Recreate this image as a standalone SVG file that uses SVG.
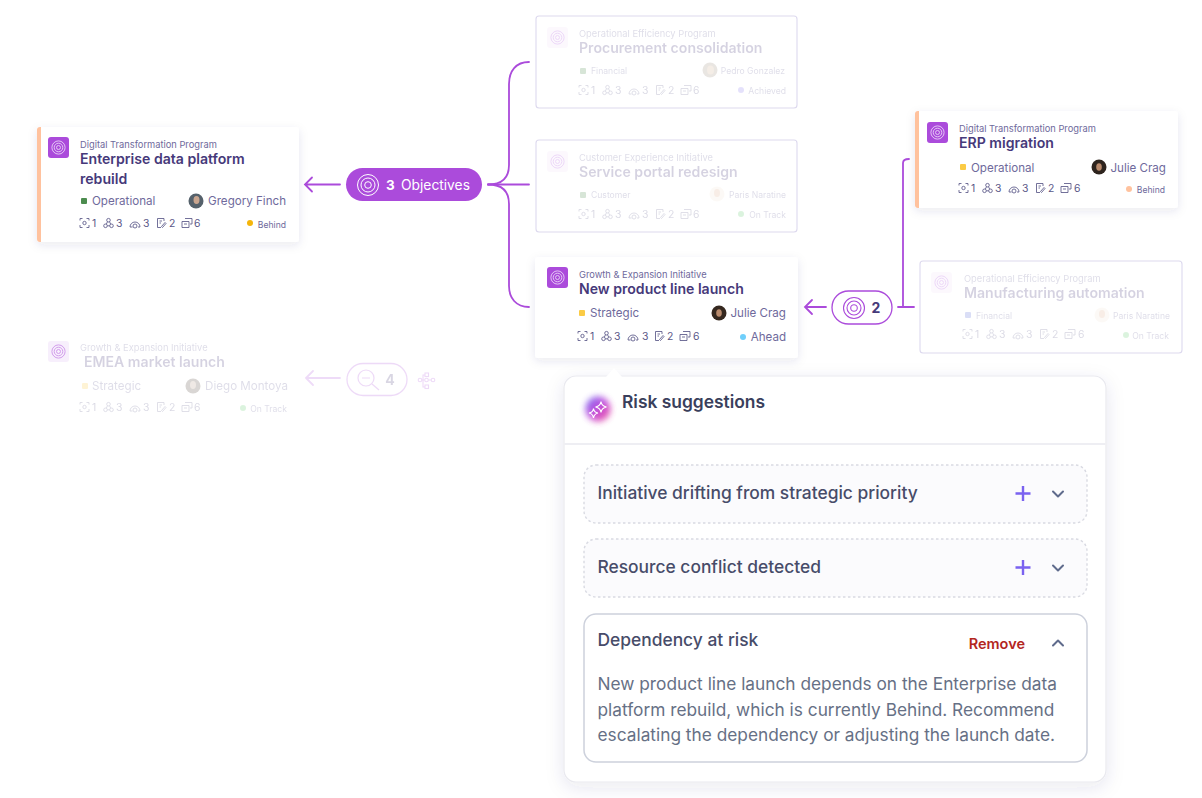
<svg xmlns="http://www.w3.org/2000/svg" width="1202" height="798" viewBox="0 0 1202 798">
<style>
text{font-family:Inter,"Noto Sans","Liberation Sans",sans-serif}
.card{fill:#fff;filter:url(#sh)}
.ghost{fill:#fff;stroke:#DDD9EE;stroke-width:1.1}
.fade{opacity:.22}
.sub{font-size:9.3px;fill:#6F6A9C}
.ttl{font-size:14.1px;font-weight:600;fill:#46397A}
.lab{font-size:11.6px;fill:#6F6A9C}
.sm{font-size:8.6px;fill:#6F6A9C}
.m{font-size:10.4px;fill:#5A5788}
.r{text-anchor:end}
.con{fill:none;stroke:#AB4BDB;stroke-width:1.8;stroke-linecap:round}
.mi{fill:none;stroke:#5A5788;stroke-width:.85}
.tg{fill:none;stroke:#AB4BDB;stroke-width:1.1}
.pt{font-size:17.4px;fill:#474C69;font-weight:500}
.dash{fill:#FBFBFD;stroke:#D9DAE2;stroke-width:1.4;stroke-dasharray:2.5 2.5}
.ico{fill:none;stroke:#5F6B8C;stroke-width:2;stroke-linecap:round;stroke-linejoin:round}
.plus{fill:none;stroke:#7A62F0;stroke-width:2.4}
.body{font-size:17.3px;fill:#667085}
</style>
<defs>
<filter id="sh" x="-15%" y="-25%" width="130%" height="150%"><feDropShadow dx="0" dy="3" stdDeviation="5" flood-color="#3A3570" flood-opacity=".1"/></filter>
<filter id="psh" x="-10%" y="-10%" width="120%" height="120%"><feDropShadow dx="0" dy="5" stdDeviation="9" flood-color="#3A3570" flood-opacity=".1"/></filter>
<filter id="bl" x="-50%" y="-50%" width="200%" height="200%"><feGaussianBlur stdDeviation="3"/></filter>
<linearGradient id="spark" x1="0" y1="0" x2="1" y2="1"><stop offset="0" stop-color="#5C5CF5"/><stop offset=".5" stop-color="#C040D8"/><stop offset="1" stop-color="#F0408C"/></linearGradient>
<g id="targetW" fill="none" stroke="#fff" stroke-width=".9" opacity=".75"><circle r="6.600"/><circle r="4.300"/><circle r="2"/></g>
<g id="badge"><rect width="21" height="21" rx="3" fill="#AB4BDB"/><use href="#targetW" x="10.500" y="10.500"/></g>
<g id="badgeP"><rect width="21" height="21" rx="3" fill="#AB4BDB" opacity=".16"/><g fill="none" stroke="#AB4BDB" stroke-width="1" transform="translate(10.500 10.500)"><circle r="6.600"/><circle r="4.300"/><circle r="2"/></g></g>
<g id="mi" class="mi">
<path d="M0-2.500V-4.500H2.500M6.500-4.500H9V-2.500M9 2V4.500H6.500M2.500 4.500H0V2"/><circle cx="4.500" cy="0" r="1.700"/>
<circle cx="28.500" cy="-2.800" r="1.800"/><circle cx="25.500" cy="2.800" r="1.800"/><circle cx="31.500" cy="2.800" r="1.800"/><path d="M27.500-1.300 26.300 1.200M29.500-1.300 30.700 1.200M27.300 2.800H29.700"/>
<path d="M50 4A5 5 0 1 1 60 4"/><path d="M50 4H52.500M60 4H58"/><circle cx="55" cy="3" r="2"/>
<path d="M77.500 4.500V-4.500H84V-2M77.500 4.500H81M79.500-2H82M79.500 0H81M81.500 3.500 85-.5 86 .5 82.500 4.500Z"/>
<path d="M105-4.500H112V1H110M102-1.500H109V4.500H102ZM104 1H107"/>
</g>
</defs>

<g id="connectors">
<path class="con" d="M488 184.500H529"/>
<path class="con" d="M488 184.500C502 184.500 509 178 509 165V84C509 71 516 62 529 62"/>
<path class="con" d="M488 184.500C502 184.500 509 191 509 204V286C509 298 516 307 529 307"/>
<path class="con" d="M340 184.500H305M312 177.500 305 184.500 312 191.500"/>
<path class="con" d="M898 307H914M903 307V163Q903 159 909 159"/>
<path class="con" d="M826 307H805M812 300 805 307 812 314"/>
<path class="con" opacity=".2" d="M340 378H306M313 371 306 378 313 385"/>
</g>

<g id="card-enterprise">
<rect class="card" x="37" y="127" width="262" height="115" rx="3"/>
<path d="M40 127H41V242H40A3 3 0 0 1 37 239V130A3 3 0 0 1 40 127Z" fill="#FFC29E"/>
<use href="#badge" x="48" y="137"/>
<text class="sub" x="80" y="148">Digital Transformation Program</text>
<text class="ttl" x="80" y="164">Enterprise data platform</text>
<text class="ttl" x="80" y="184">rebuild</text>
<rect x="81" y="198" width="6" height="6" rx="1" fill="#4C8C4F"/>
<text class="lab" x="92" y="205">Operational</text>
<circle cx="196" cy="201" r="7.500" fill="#55616B"/><ellipse cx="196.500" cy="200" rx="3" ry="4" fill="#C9A58F"/>
<text class="lab r" x="286" y="205">Gregory Finch</text>
<use href="#mi" x="80" y="223"/>
<text class="m" x="92" y="226.500">1</text><text class="m" x="116" y="226.500">3</text><text class="m" x="143" y="226.500">3</text><text class="m" x="169" y="226.500">2</text><text class="m" x="194" y="226.500">6</text>
<circle cx="250" cy="223" r="3" fill="#F5B50A"/>
<text class="sm r" x="286" y="227.500">Behind</text>
</g>

<g id="pill-objectives">
<rect x="346" y="168" width="136" height="33" rx="16.500" fill="#AB4BDB"/>
<g fill="none" stroke="#fff" stroke-width="1" transform="translate(368 185)"><circle r="10.500"/><circle r="7"/><circle r="3.300"/></g>
<text x="386" y="190" font-size="13.500" font-weight="700" fill="#fff">3</text>
<text x="401" y="190" font-size="13.800" fill="#fff">Objectives</text>
</g>

<g id="card-procurement">
<rect class="ghost" x="536" y="16" width="261" height="92" rx="3"/>
<g class="fade">
<use href="#badgeP" x="547" y="27"/>
<text class="sub" x="579" y="36.500">Operational Efficiency Program</text>
<text class="ttl" x="579" y="53">Procurement consolidation</text>
<rect x="580" y="68" width="6" height="6" rx="1" fill="#4C8C4F"/>
<text class="sm" x="591" y="74">Financial</text>
<circle cx="710" cy="70" r="7.500" fill="#A08F80"/><ellipse cx="710.500" cy="70" rx="3.500" ry="4.500" fill="#D0B090"/>
<text class="sm r" x="785" y="74">Pedro Gonzalez</text>
<use href="#mi" x="579" y="90"/>
<text class="m" x="591" y="93.500">1</text><text class="m" x="615" y="93.500">3</text><text class="m" x="642" y="93.500">3</text><text class="m" x="668" y="93.500">2</text><text class="m" x="693" y="93.500">6</text>
<circle cx="741" cy="90" r="3" fill="#8A7AF0"/>
<text class="sm r" x="786" y="94">Achieved</text>
</g>
</g>

<g id="card-service">
<rect class="ghost" x="536" y="140" width="261" height="92" rx="3"/>
<g class="fade">
<use href="#badgeP" x="547" y="151"/>
<text class="sub" x="579" y="160.500">Customer Experience Initiative</text>
<text class="ttl" x="579" y="177">Service portal redesign</text>
<rect x="580" y="192" width="6" height="6" rx="1" fill="#4C8C4F"/>
<text class="sm" x="591" y="198">Customer</text>
<circle cx="717" cy="194" r="7.500" fill="#F2E6D8"/><ellipse cx="717" cy="193" rx="3" ry="4" fill="#E0B090"/>
<text class="sm r" x="786" y="198">Paris Naratine</text>
<use href="#mi" x="579" y="214"/>
<text class="m" x="591" y="217.500">1</text><text class="m" x="615" y="217.500">3</text><text class="m" x="642" y="217.500">3</text><text class="m" x="668" y="217.500">2</text><text class="m" x="693" y="217.500">6</text>
<circle cx="741" cy="214" r="3" fill="#5FCB6B"/>
<text class="sm r" x="786" y="218">On Track</text>
</g>
</g>

<g id="card-newproduct">
<rect class="card" x="535" y="257" width="263" height="101" rx="3"/>
<use href="#badge" x="547" y="267"/>
<text class="sub" x="579" y="277.500">Growth &amp; Expansion Initiative</text>
<text class="ttl" x="579" y="294">New product line launch</text>
<rect x="579" y="310" width="6" height="6" rx="1" fill="#FBCB45"/>
<text class="lab" x="590" y="317">Strategic</text>
<circle cx="719" cy="313" r="7.500" fill="#35281F"/><ellipse cx="719" cy="313" rx="2.800" ry="3.800" fill="#B98A6C"/>
<text class="lab r" x="786" y="317">Julie Crag</text>
<use href="#mi" x="578" y="336"/>
<text class="m" x="590" y="340">1</text><text class="m" x="614" y="340">3</text><text class="m" x="642" y="340">3</text><text class="m" x="667" y="340">2</text><text class="m" x="693" y="340">6</text>
<circle cx="743" cy="337" r="3" fill="#6FCFFB"/>
<text class="lab r" x="786" y="341">Ahead</text>
</g>

<g id="pill-2">
<rect x="832" y="291" width="60" height="33" rx="16.500" fill="#fff" stroke="#AB4BDB" stroke-width="1.300"/>
<g class="tg" transform="translate(854 308)"><circle r="10.500"/><circle r="7"/><circle r="3.300"/></g>
<text x="876" y="313" font-size="14" font-weight="700" fill="#46397A" text-anchor="middle">2</text>
</g>

<g id="card-erp">
<rect class="card" x="915" y="111" width="263" height="97" rx="3"/>
<path d="M918 111H919V208H918A3 3 0 0 1 915 205V114A3 3 0 0 1 918 111Z" fill="#FFC29E"/>
<use href="#badge" x="927" y="122"/>
<text class="sub" x="959" y="132">Digital Transformation Program</text>
<text class="ttl" x="959" y="148">ERP migration</text>
<rect x="960" y="164" width="6" height="6" rx="1" fill="#FBCB45"/>
<text class="lab" x="971" y="172">Operational</text>
<circle cx="1099" cy="167" r="7.500" fill="#2E241E"/><ellipse cx="1099" cy="167" rx="2.800" ry="3.800" fill="#B98A6C"/>
<text class="lab r" x="1166" y="172">Julie Crag</text>
<use href="#mi" x="959" y="188"/>
<text class="m" x="971" y="192">1</text><text class="m" x="995" y="192">3</text><text class="m" x="1022" y="192">3</text><text class="m" x="1048" y="192">2</text><text class="m" x="1074" y="192">6</text>
<circle cx="1129" cy="189" r="3" fill="#FFC29E"/>
<text class="sm r" x="1165" y="193">Behind</text>
</g>

<g id="card-manufacturing">
<rect class="ghost" x="920" y="261" width="262" height="92" rx="3"/>
<g class="fade">
<use href="#badgeP" x="931" y="272"/>
<text class="sub" x="964" y="281.500">Operational Efficiency Program</text>
<text class="ttl" x="964" y="298">Manufacturing automation</text>
<rect x="965" y="312" width="6" height="6" rx="1" fill="#5B6FD8"/>
<text class="sm" x="976" y="319">Financial</text>
<circle cx="1102" cy="315" r="7.500" fill="#F2E6D8"/><ellipse cx="1102" cy="314" rx="3" ry="4" fill="#E0B090"/>
<text class="sm r" x="1170" y="319">Paris Naratine</text>
<use href="#mi" x="963" y="334"/>
<text class="m" x="975" y="338">1</text><text class="m" x="999" y="338">3</text><text class="m" x="1026" y="338">3</text><text class="m" x="1052" y="338">2</text><text class="m" x="1078" y="338">6</text>
<circle cx="1126" cy="335" r="3" fill="#5FCB6B"/>
<text class="sm r" x="1169" y="339">On Track</text>
</g>
</g>

<g id="card-emea">
<use href="#badgeP" x="48" y="341" opacity=".55"/>
<g class="fade">
<text class="sub" x="80" y="351">Growth &amp; Expansion Initiative</text>
<text class="ttl" x="84" y="367">EMEA market launch</text>
<rect x="82" y="383" width="6" height="6" rx="1" fill="#FBCB45"/>
<text class="lab" x="92" y="390">Strategic</text>
<circle cx="193" cy="386" r="7.500" fill="#55483E"/><ellipse cx="193" cy="385" rx="3" ry="4" fill="#B9A08C"/>
<text class="lab r" x="288" y="390">Diego Montoya</text>
<use href="#mi" x="80" y="407"/>
<text class="m" x="92" y="411">1</text><text class="m" x="116" y="411">3</text><text class="m" x="143" y="411">3</text><text class="m" x="169" y="411">2</text><text class="m" x="194" y="411">6</text>
<circle cx="243" cy="408" r="3" fill="#5FCB6B"/>
<text class="sm r" x="287" y="412">On Track</text>
</g>
</g>

<g id="pill-4" opacity=".2">
<rect x="347" y="363.500" width="60" height="32" rx="16" fill="#fff" stroke="#AB4BDB" stroke-width="1.300"/>
<circle cx="366" cy="378" r="8" fill="none" stroke="#AB4BDB" stroke-width="1.200"/>
<path d="M362 378H370M372 384 379 390" fill="none" stroke="#AB4BDB" stroke-width="1.200"/>
<text x="390" y="385" font-size="14" font-weight="700" fill="#46397A" text-anchor="middle">4</text>
<g fill="none" stroke="#AB4BDB" stroke-width="1.100"><circle cx="420" cy="380" r="1.800"/><rect x="425" y="373" width="3.500" height="3.500"/><circle cx="426.500" cy="380" r="1.800"/><rect x="425" y="385" width="3.500" height="3.500"/><circle cx="433" cy="380" r="1.800"/><path d="M422 380H424.500M428.500 380H431M423 380V375H425M423 380V387H425"/></g>
</g>

<g id="panel-risk">
<rect x="564" y="376" width="542" height="406" rx="12" fill="#fff" stroke="#E9E9EF" stroke-width="1.200" filter="url(#psh)"/>
<path d="M606 377 614 368 622 377Z" fill="#fff"/>
<path d="M564.600 444H1105.400" stroke="#E9E9EF" stroke-width="1.300"/>
<g id="spark-icon">
<circle cx="598" cy="409" r="12.500" fill="url(#spark)" filter="url(#bl)" opacity=".9"/>
<path d="M601 401.500Q601.500 406 606.500 407 601.500 408 601 412.500 600.500 408 595.500 407 600.500 406 601 401.500ZM593.500 408.500Q594 412.500 598 413 594 414 593.500 418 593 414 589 413 593 412.500 593.500 408.500Z" fill="none" stroke="#fff" stroke-width="1.100"/>
</g>
<text x="622" y="408" font-size="17.400" font-weight="600" fill="#3A3F5C">Risk suggestions</text>
<g id="risk-1">
<rect class="dash" x="584" y="465" width="503" height="58" rx="12"/>
<text class="pt" x="597.500" y="499">Initiative drifting from strategic priority</text>
<path class="plus" d="M1023 486V501M1015.500 493.500H1030.500"/>
<path class="ico" d="M1053 491.500 1058 496.500 1063 491.500"/>
</g>
<g id="risk-2">
<rect class="dash" x="584" y="539" width="503" height="58" rx="12"/>
<text class="pt" x="597.500" y="573">Resource conflict detected</text>
<path class="plus" d="M1023 560V575M1015.500 567.500H1030.500"/>
<path class="ico" d="M1053 565.500 1058 570.500 1063 565.500"/>
</g>
<g id="risk-3">
<rect x="584" y="614" width="503" height="148" rx="12" fill="#fff" stroke="#CDD1DC" stroke-width="1.500"/>
<text class="pt" x="597.500" y="646">Dependency at risk</text>
<text x="1025" y="649" font-size="14.500" font-weight="600" fill="#B3261E" text-anchor="end">Remove</text>
<path class="ico" d="M1053 645.500 1058 640.500 1063 645.500"/>
<text class="body" x="597.500" y="690">New product line launch depends on the Enterprise data</text>
<text class="body" x="597.500" y="716">platform rebuild, which is currently Behind. Recommend</text>
<text class="body" x="597.500" y="741">escalating the dependency or adjusting the launch date.</text>
</g>
</g>
</svg>
